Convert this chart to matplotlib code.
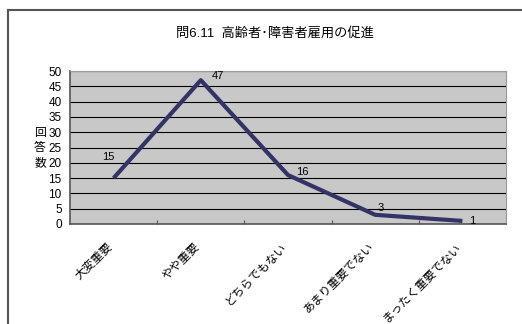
import matplotlib
matplotlib.use("Agg")
import matplotlib.pyplot as plt
import matplotlib.transforms as mtransforms
from matplotlib.lines import Line2D
import numpy as np

plt.rcParams['font.family'] = ['Liberation Sans', 'Noto Sans CJK JP', 'DejaVu Sans']

# answers per category
categories = ['大変重要', 'やや重要', 'どちらでもない', 'あまり重要でない', 'まったく重要でない']
counts = [15, 47, 16, 3, 1]
title = '問6.11  高齢者･障害者雇用の促進'
ylabel = '回答数'
yticks = [0, 5, 10, 15, 20, 25, 30, 35, 40, 45, 50]

# label offsets in points (dx, dy)
label_offsets = [(-4, 15), (12, 3), (10, 2), (4, 5), (7, 0)]

W, H = 522, 324
fig = plt.figure(figsize=(W / 100, H / 100), dpi=100)
fig.patch.set_facecolor('white')

# outer chart frame (runs off the right and bottom)
fig.add_artist(Line2D([8 / W, 8 / W], [0, 1 - 10 / H], color='#555555', lw=1.5,
                      transform=fig.transFigure))
fig.add_artist(Line2D([8 / W, 1], [1 - 10 / H, 1 - 10 / H], color='#555555', lw=1.5,
                      transform=fig.transFigure))

left, right, top, bottom = 70, 506, 71, 224
ax = fig.add_axes([left / W, 1 - bottom / H, (right - left) / W, (bottom - top) / H])
ax.set_facecolor('#c8c8c8')

x = np.arange(len(categories))
ax.plot(x, counts, color='#333366', lw=3, solid_capstyle='butt', zorder=3)

for xi, v, (dx, dy) in zip(x, counts, label_offsets):
    ax.annotate(str(v), (xi, v), xytext=(dx, dy), textcoords='offset points',
                ha='center', va='center', fontsize=8, color='black')

ax.set_xlim(-0.5, len(categories) - 0.5)
ax.set_ylim(0, 50)
ax.set_yticks(yticks)
ax.yaxis.grid(True, color='black', lw=0.8)
ax.set_axisbelow(True)
ax.tick_params(axis='y', length=0, labelsize=8.5, pad=6)

# category ticks sit between categories, labels at the centers
ax.set_xticks(x[:-1] + 0.5)
ax.set_xticklabels([])
ax.tick_params(axis='x', which='major', direction='in', length=3, color='#555555')
ax.set_xticks(x, minor=True)
ax.set_xticklabels(categories, minor=True, rotation=45, ha='right', va='top',
                   rotation_mode='anchor', fontsize=8.5)
ax.tick_params(axis='x', which='minor', length=0, pad=12)
shift = mtransforms.ScaledTranslation(-7 / 100, 0, fig.dpi_scale_trans)
for lab in ax.get_xticklabels(minor=True):
    lab.set_transform(lab.get_transform() + shift)

for s in ['left', 'bottom']:
    ax.spines[s].set_color('#555555')
    ax.spines[s].set_linewidth(1.2)
for s in ['right', 'top']:
    ax.spines[s].set_color('#999999')
    ax.spines[s].set_linewidth(0.8)

fig.text(275 / W, 1 - 33 / H, title, ha='center', va='center', fontsize=9.5)

# vertical axis title, one character per row
for i, ch in enumerate(ylabel):
    fig.text(40 / W, 1 - (133 + 15 * i) / H, ch, ha='center', va='center', fontsize=8.5)

fig.savefig('out.png', dpi=100)
